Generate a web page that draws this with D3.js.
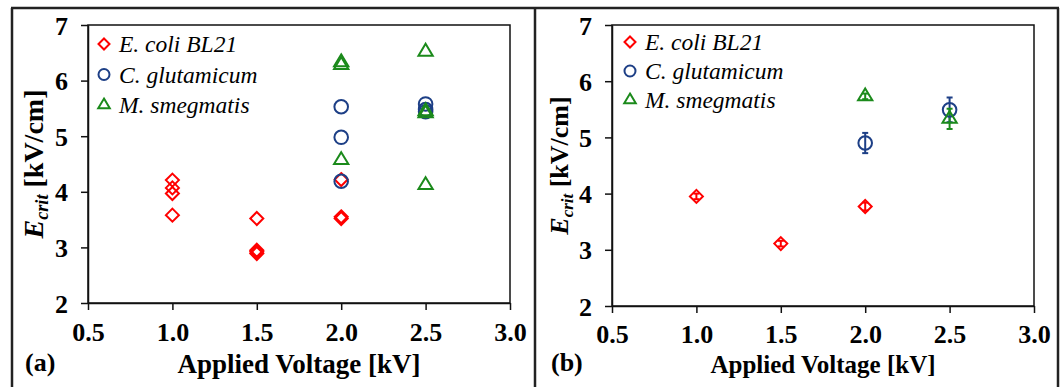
<!DOCTYPE html>
<html>
<head>
<meta charset="utf-8">
<script src="https://cdn.jsdelivr.net/npm/d3@7"></script>
<style>
  body { margin: 0; background: #fff; }
  svg { display: block; }
  svg text { font-family: "Liberation Serif", "Times New Roman", serif; }
</style>
</head>
<body>
<div id="chart"></div>
<script>
// Axis ticks
const xTicks = [0.5, 1.0, 1.5, 2.0, 2.5, 3.0];
const yTicks = [2, 3, 4, 5, 6, 7];
const seriesNames = ["E. coli BL21", "C. glutamicum", "M. smegmatis"];

// Panel (a): individual measurements [voltage, Ecrit]
const ecoliA = [[1.0, 4.21], [1.0, 4.07], [1.0, 3.97], [1.0, 3.58],
                [1.5, 3.52], [1.5, 2.95], [1.5, 2.92], [1.5, 2.89],
                [2.0, 4.22], [2.0, 3.55], [2.0, 3.52]];
const cglutA = [[2.0, 5.53], [2.0, 4.98], [2.0, 4.19],
                [2.5, 5.58], [2.5, 5.48], [2.5, 5.44]];
const msmegA = [[2.0, 6.33], [2.0, 6.28], [2.0, 4.57],
                [2.5, 6.52], [2.5, 5.45], [2.5, 5.41], [2.5, 4.12]];

// Panel (b): means with error [voltage, Ecrit, err]
const ecoliB = [[1.0, 3.95, 0.05], [1.5, 3.11, 0.05], [2.0, 3.77, 0.07]];
const cglutB = [[2.0, 4.90, 0.18], [2.5, 5.49, 0.22]];
const msmegB = [[2.0, 5.73, 0.05], [2.5, 5.33, 0.18]];

const colors = ["#ff0000", "#1d3f86", "#1b8a1b"];
const shapes = ["diamond", "circle", "triangle"];
const serif = "'Liberation Serif', 'Times New Roman', serif";

const W = 1062, H = 387;
const svg = d3.select("#chart").append("svg")
    .attr("width", W)
    .attr("height", H);

// outer frame (top, left, separator, right)
const frame = svg.append("g").attr("stroke", "#222").attr("stroke-width", 2.5).attr("fill", "none");
frame.append("line").attr("x1", 11).attr("x2", 1059).attr("y1", 8).attr("y2", 8);
[12, 535, 1058].forEach(x => {
    frame.append("line").attr("x1", x).attr("x2", x).attr("y1", 8).attr("y2", H);
});

function markerPath(shape, s) {
    if (shape === "diamond") return `M0,${-s}L${s},0L0,${s}L${-s},0Z`;
    if (shape === "circle") return `M${s},0A${s},${s} 0 1,1 ${-s},0A${s},${s} 0 1,1 ${s},0Z`;
    const h = s * 1.75, w = s * 1.05;
    return `M0,${-h * 2 / 3}L${w},${h / 3}L${-w},${h / 3}Z`;
}

function drawPanel(p) {
    const x = d3.scaleLinear().domain([0.5, 3.0]).range([p.left, p.right]);
    const y = d3.scaleLinear().domain([2, 7]).range([p.bottom, p.top]);
    const g = svg.append("g");

    // plot box
    g.append("rect")
        .attr("x", p.left).attr("y", p.top)
        .attr("width", p.right - p.left).attr("height", p.bottom - p.top)
        .attr("fill", "none").attr("stroke", "#111").attr("stroke-width", 1.5);

    const xAxis = g.append("g")
        .attr("transform", `translate(0,${p.bottom})`)
        .call(d3.axisBottom(x).tickValues(xTicks).tickFormat(d3.format(".1f")).tickSize(7).tickSizeOuter(0));
    const yAxis = g.append("g")
        .attr("transform", `translate(${p.left},0)`)
        .call(d3.axisLeft(y).tickValues(yTicks).tickFormat(d3.format("d")).tickSize(7).tickSizeOuter(0));
    [xAxis, yAxis].forEach(a => {
        a.attr("font-family", serif);
        a.select(".domain").attr("stroke", "#111").attr("stroke-width", 1.5);
        a.selectAll(".tick line").attr("stroke", "#111").attr("stroke-width", 1.5);
        a.selectAll(".tick text")
            .style("font-family", serif)
            .style("font-weight", "bold")
            .style("font-size", p.tickFont + "px")
            .attr("fill", "#000");
    });
    xAxis.selectAll(".tick text").attr("y", p.xTickDy).attr("dy", 0);
    yAxis.selectAll(".tick text").attr("x", -20).attr("dy", "0.35em");

    // axis titles
    g.append("text")
        .attr("x", p.xTitleX).attr("y", 373)
        .attr("text-anchor", "middle")
        .style("font-family", serif)
        .style("font-weight", "bold")
        .style("font-size", p.titleFont + "px")
        .text("Applied Voltage [kV]");

    const yt = g.append("text")
        .attr("transform", `translate(${p.yTitleX},${(p.top + p.bottom) / 2}) rotate(-90)`)
        .attr("text-anchor", "middle")
        .style("font-family", serif)
        .style("font-weight", "bold")
        .style("font-size", (p.titleFont + 1) + "px");
    yt.append("tspan").style("font-style", "italic").text("E");
    yt.append("tspan").style("font-style", "italic").style("font-size", ((p.titleFont + 1) * 0.65) + "px")
        .attr("dy", 5).text("crit");
    yt.append("tspan").attr("dy", -5).text(" [kV/cm]");

    g.append("text")
        .attr("x", p.labelX).attr("y", 371)
        .style("font-family", serif)
        .style("font-weight", "bold")
        .style("font-size", "26px")
        .text(p.label);

    // error bars
    p.series.forEach((data, i) => {
        if (!p.errors) return;
        const eb = g.append("g").attr("stroke", colors[i]).attr("stroke-width", 2);
        data.forEach(d => {
            const cx = x(d[0]);
            eb.append("line").attr("x1", cx).attr("x2", cx).attr("y1", y(d[1] - d[2])).attr("y2", y(d[1] + d[2]));
            [d[1] - d[2], d[1] + d[2]].forEach(v => {
                eb.append("line").attr("x1", cx - 3).attr("x2", cx + 3).attr("y1", y(v)).attr("y2", y(v));
            });
        });
    });

    // markers
    p.series.forEach((data, i) => {
        g.append("g").selectAll("path")
            .data(data)
            .join("path")
            .attr("transform", d => `translate(${x(d[0])},${y(d[1])})`)
            .attr("d", markerPath(shapes[i], i === 0 ? 6.5 : 6.8))
            .attr("fill", "none")
            .attr("stroke", colors[i])
            .attr("stroke-width", 2);
    });

    // legend
    seriesNames.forEach((name, i) => {
        const ly = p.legendY + i * p.legendStep;
        g.append("path")
            .attr("transform", `translate(${p.legendX},${ly})`)
            .attr("d", markerPath(shapes[i], 5.5))
            .attr("fill", "none")
            .attr("stroke", colors[i])
            .attr("stroke-width", 2);
        g.append("text")
            .attr("x", p.legendX + 15).attr("y", ly + 8)
            .style("font-family", serif)
            .style("font-style", "italic")
            .style("font-size", "23.5px")
            .text(name);
    });
}

drawPanel({
    left: 88, right: 510, top: 25, bottom: 303,
    series: [ecoliA, cglutA, msmegA], errors: false,
    tickFont: 26, titleFont: 27, xTickDy: 38,
    xTitleX: 299, yTitleX: 43, label: "(a)", labelX: 25,
    legendX: 104, legendY: 44, legendStep: 30.5
});

drawPanel({
    left: 612, right: 1034, top: 25, bottom: 306,
    series: [ecoliB, cglutB, msmegB], errors: true,
    tickFont: 26, titleFont: 25, xTickDy: 37,
    xTitleX: 823, yTitleX: 568, label: "(b)", labelX: 551,
    legendX: 630, legendY: 42, legendStep: 29
});
</script>
</body>
</html>
